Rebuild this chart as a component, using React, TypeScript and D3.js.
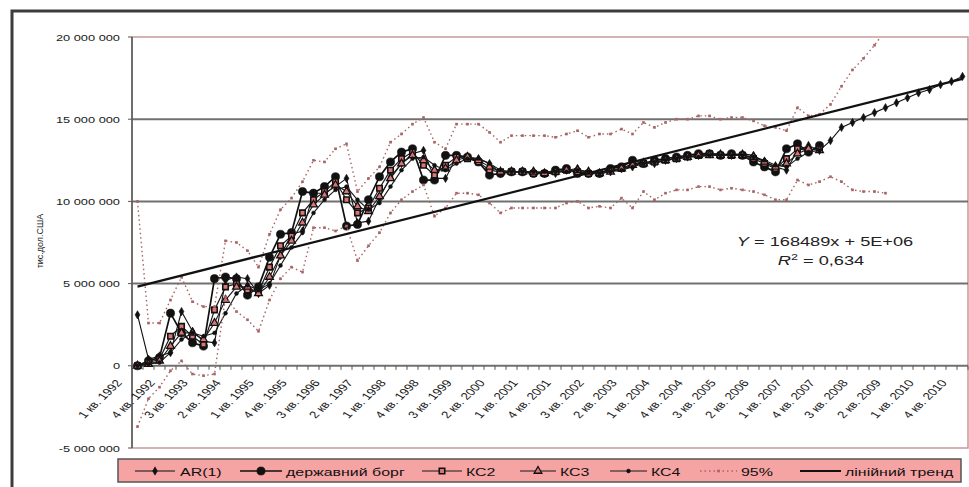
import React from 'react';
import * as d3 from 'd3';

const W = 969;
const H = 487;

const YEARS = [1992, 1993, 1994, 1995, 1996, 1997, 1998, 1999, 2000, 2001, 2002, 2003, 2004, 2005, 2006, 2007, 2008, 2009, 2010];
const QUARTERS = YEARS.flatMap((y) => [1, 2, 3, 4].map((q) => `${q} кв. ${y}`));
const LABEL_EVERY = 3;
const Y_TICKS = [-5, 0, 5, 10, 15, 20]; // millions

// values in millions of USD (тис. дол. США * 1000)
const debt = [
  0.0, 0.3, 0.5, 3.2, 2.0, 1.4, 1.2, 5.3, 5.4, 5.3,
  4.3, 4.8, 6.6, 8.0, 8.1, 10.6, 10.5, 10.9, 11.5, 8.5,
  8.6, 10.1, 11.5, 12.4, 13.0, 13.2, 11.3, 11.3, 12.8, 12.8,
  12.7, 12.4, 11.6, 11.7, 11.8, 11.8, 11.7, 11.7, 11.9, 12.0,
  11.7, 11.7, 11.7, 12.0, 12.1, 12.5, 12.3, 12.5, 12.6, 12.7,
  12.8, 12.9, 12.9, 12.8, 12.9, 12.8, 12.4, 12.1, 11.8, 13.2,
  13.5, 13.0, 13.4,
];

const ar1 = [
  3.1, 0.4, 0.6, 0.8, 3.3, 2.1, 1.5, 1.4, 5.2, 5.4,
  5.3, 4.4, 4.9, 6.7, 8.0, 8.2, 10.5, 10.5, 10.9, 11.4,
  8.7, 8.8, 10.2, 11.5, 12.3, 12.9, 13.1, 11.4, 11.4, 12.7,
  12.7, 12.6, 12.3, 11.7, 11.8, 11.8, 11.8, 11.7, 11.7, 11.9,
  12.0, 11.7, 11.7, 11.8, 12.0, 12.1, 12.4, 12.3, 12.5, 12.6,
  12.7, 12.8, 12.9, 12.9, 12.8, 12.9, 12.8, 12.4, 12.1, 11.9,
  13.1, 13.4, 13.1, 13.7, 14.5, 14.8, 15.1, 15.4, 15.7, 16.0,
  16.3, 16.6, 16.8, 17.1, 17.3, 17.6,
];

const kc2 = [
  0.0, 0.2, 0.4, 1.8, 2.4, 1.8, 1.3, 3.4, 4.8, 5.0,
  4.6, 4.5, 6.0, 7.3, 7.9, 9.3, 10.1, 10.6, 11.2, 10.1,
  9.3, 9.6, 10.8, 11.9, 12.6, 13.0, 12.2, 11.6, 12.2, 12.7,
  12.6, 12.4, 11.9, 11.8, 11.8, 11.8, 11.7, 11.7, 11.8, 11.9,
  11.8, 11.7, 11.7, 11.9, 12.0, 12.3, 12.3, 12.4, 12.5, 12.6,
  12.7, 12.8, 12.9, 12.8, 12.8, 12.8, 12.6, 12.3, 12.0, 12.6,
  13.2, 13.1, 13.2,
];

const kc3 = [
  0.0, 0.1, 0.3, 1.2, 2.0, 2.0, 1.6, 2.6, 4.0, 4.8,
  4.8, 4.4, 5.4, 6.7, 7.6, 8.7, 9.8, 10.4, 11.0, 10.6,
  9.7, 9.4, 10.3, 11.4, 12.3, 12.8, 12.5, 11.9, 12.0, 12.5,
  12.7, 12.5, 12.1, 11.8, 11.8, 11.8, 11.8, 11.7, 11.8, 11.9,
  11.9, 11.8, 11.7, 11.8, 12.0, 12.2, 12.3, 12.4, 12.5, 12.6,
  12.7, 12.8, 12.8, 12.8, 12.8, 12.8, 12.7, 12.4, 12.1, 12.3,
  12.9, 13.2, 13.1,
];

const kc4 = [
  0.0, 0.1, 0.2, 0.8, 1.6, 2.0, 1.8, 2.0, 3.2, 4.4,
  4.9, 4.6, 5.0, 6.1, 7.2, 8.1, 9.3, 10.1, 10.7, 10.9,
  10.1, 9.5, 9.9, 10.9, 11.9, 12.6, 12.7, 12.2, 11.9, 12.3,
  12.6, 12.6, 12.3, 11.9, 11.8, 11.8, 11.8, 11.8, 11.8, 11.8,
  11.9, 11.8, 11.7, 11.8, 11.9, 12.1, 12.3, 12.4, 12.5, 12.6,
  12.7, 12.7, 12.8, 12.8, 12.8, 12.8, 12.7, 12.5, 12.2, 12.1,
  12.6, 13.0, 13.1,
];

const upper95 = [
  10.0, 2.6, 2.6, 4.0, 5.4, 3.9, 3.6, 3.6, 7.6, 7.5,
  7.0, 6.0, 8.0, 9.5, 10.2, 11.2, 12.5, 12.4, 13.2, 13.5,
  10.6, 11.4, 12.1, 13.6, 14.1, 14.7, 15.1, 13.6, 13.2, 14.7,
  14.7, 14.7, 14.2, 13.6, 14.0, 14.0, 14.0, 14.0, 13.9, 14.1,
  14.3, 13.9, 14.1, 14.1, 14.4, 14.1, 14.8, 14.5, 14.8, 15.0,
  15.0, 15.2, 15.2, 15.0, 15.1, 15.1, 14.9, 14.6, 14.5, 14.3,
  15.7, 15.2, 15.3, 15.9, 17.0, 18.0, 18.7, 19.5, 20.4,
];

const lower95 = [
  -3.7, -2.0, -1.3, -0.3, 0.3, -0.5, -0.6, -0.5, 4.2, 3.3,
  2.8, 2.1, 4.0, 5.3, 6.0, 5.7, 8.4, 8.4, 8.2, 8.5,
  6.4, 7.3, 8.1, 9.3, 10.1, 10.6, 11.0, 9.1, 9.6, 10.5,
  10.5, 10.4, 9.9, 9.3, 9.6, 9.6, 9.6, 9.6, 9.6, 9.9,
  10.0, 9.6, 9.7, 9.6, 10.2, 9.6, 10.6, 10.1, 10.5, 10.7,
  10.7, 10.9, 10.9, 10.7, 10.8, 10.7, 10.6, 10.4, 10.1, 10.1,
  11.3, 11.0, 11.2, 11.5, 11.2, 10.7, 10.6, 10.6, 10.5,
];

const TREND_SLOPE = 168489; // per quarter
const TREND_INTERCEPT = 4650000;

const LEGEND = ['AR(1)', 'державний борг', 'КС2', 'КС3', 'КС4', '95%', 'лінійний тренд'];

const FONT = "'Liberation Sans', Arial, sans-serif";
const SX = 1.35;
const PINK = '#dc7676';
const BOUND = '#a86464';

const M = { left: 132, right: 968, top: 37, bottom: 448 };

const x = d3.scaleBand<number>().domain(QUARTERS.map((_, i) => i)).range([M.left, M.right]).paddingInner(0).paddingOuter(0);
const cx = (i: number) => (x(i) as number) + x.bandwidth() / 2;
const y = d3.scaleLinear().domain([-5, 20]).range([M.bottom, M.top]);

const fmtY = (v: number) => d3.format(',')(v * 1e6).replace(/,/g, ' ').replace('−', '-');

const lineGen = d3.line<number>().x((_, i) => cx(i)).y((d) => y(d));

const sym = (t: d3.SymbolType, s: number) => d3.symbol().type(t).size(s)() as string;

type SeriesStyle = {
  data: number[];
  stroke: string;
  width: number;
  dash?: string;
  marker: string;
  mFill: string;
  mStroke: string;
  mWidth: number;
};

const SERIES: SeriesStyle[] = [
  { data: ar1, stroke: '#111', width: 1.1, marker: sym(d3.symbolDiamond, 20), mFill: '#111', mStroke: '#111', mWidth: 0.6 },
  { data: debt, stroke: '#111', width: 1.7, marker: sym(d3.symbolCircle, 52), mFill: '#111', mStroke: '#111', mWidth: 0.6 },
  { data: kc2, stroke: '#1a1a1a', width: 1.2, marker: sym(d3.symbolSquare, 30), mFill: PINK, mStroke: '#111', mWidth: 1.6 },
  { data: kc3, stroke: '#1a1a1a', width: 1.1, marker: sym(d3.symbolTriangle, 26), mFill: PINK, mStroke: '#111', mWidth: 1.3 },
  { data: kc4, stroke: '#1a1a1a', width: 1.1, marker: sym(d3.symbolCircle, 12), mFill: '#111', mStroke: '#111', mWidth: 0.5 },
  { data: upper95, stroke: BOUND, width: 1.4, dash: '1.5,3', marker: sym(d3.symbolSquare, 7), mFill: BOUND, mStroke: 'none', mWidth: 0 },
  { data: lower95, stroke: BOUND, width: 1.4, dash: '1.5,3', marker: sym(d3.symbolSquare, 7), mFill: BOUND, mStroke: 'none', mWidth: 0 },
];

function SText(props: any) {
  const { x: tx, y: ty, sx = SX, rot = 0, children, ...rest } = props;
  return (
    <text transform={`translate(${tx},${ty}) scale(${sx},1)${rot ? ` rotate(${rot})` : ''}`} fontFamily={FONT} {...rest}>
      {children}
    </text>
  );
}

export default function App() {
  const n = QUARTERS.length;
  const trendPts: [number, number][] = [0, n - 1].map((i) => [cx(i), y((TREND_SLOPE * (i + 1) + TREND_INTERCEPT) / 1e6)]);

  const legendItems = [
    { s0: 135, s1: 175, tx: 180, idx: 0 },
    { s0: 240, s1: 282, tx: 286, idx: 1 },
    { s0: 422, s1: 462, tx: 466, idx: 2 },
    { s0: 520, s1: 556, tx: 560, idx: 3 },
    { s0: 610, s1: 647, tx: 651, idx: 4 },
    { s0: 700, s1: 737, tx: 741, idx: 5 },
    { s0: 800, s1: 841, tx: 845, idx: 7 },
  ];

  return (
    <svg width={W} height={H} style={{ position: 'absolute', left: 0, top: 0, background: '#fff' }}>
      <defs>
        <clipPath id="plotClip">
          <rect x={M.left} y={M.top} width={M.right - M.left} height={M.bottom - M.top} />
        </clipPath>
      </defs>
      <rect x={0} y={0} width={W} height={H} fill="#fff" />
      {/* outer frame */}
      <rect x={12} y={11} width={W + 20} height={H + 20} fill="none" stroke="#3c3c3c" strokeWidth={3} />

      {/* plot border (pink) */}
      <rect x={M.left} y={M.top} width={M.right - M.left} height={M.bottom - M.top} fill="none" stroke="#c79a9a" strokeWidth={1.5} />

      {/* gridlines */}
      {Y_TICKS.filter((v) => v > -5 && v < 20).map((v) => (
        <line key={v} x1={M.left} x2={M.right} y1={y(v)} y2={y(v)} stroke="#707070" strokeWidth={2} />
      ))}

      {/* y axis */}
      <line x1={M.left} x2={M.left} y1={M.top} y2={M.bottom} stroke="#666" strokeWidth={1.8} />
      {Y_TICKS.map((v) => (
        <g key={v}>
          <line x1={M.left - 4} x2={M.left} y1={y(v)} y2={y(v)} stroke="#555" strokeWidth={1} />
          <SText x={120} y={y(v) + 3.5} textAnchor="end" fontSize={9.5} fill="#1a1a1a">
            {fmtY(v)}
          </SText>
        </g>
      ))}

      {/* x ticks at category boundaries */}
      {d3.range(n + 1).map((k) => {
        const xx = M.left + k * x.bandwidth();
        return <line key={k} x1={xx} x2={xx} y1={y(0)} y2={y(0) + 4} stroke="#555" strokeWidth={1} />;
      })}
      {QUARTERS.map((q, i) =>
        i % LABEL_EVERY === 0 ? (
          <SText key={q} x={cx(i) - 15} y={383} rot={-52} textAnchor="end" fontSize={10} fill="#1a1a1a">
            {q}
          </SText>
        ) : null
      )}

      {/* y title */}
      <text transform="translate(43,241) rotate(-90)" textAnchor="middle" fontFamily={FONT} fontSize={9} fill="#222">
        тис.дол.США
      </text>

      {/* series */}
      <g clipPath="url(#plotClip)">
        {SERIES.map((s, si) => (
          <g key={si}>
            <path d={lineGen(s.data) as string} fill="none" stroke={s.stroke} strokeWidth={s.width} strokeDasharray={s.dash} />
            {s.data.map((v, i) => (
              <path key={i} d={s.marker} transform={`translate(${cx(i)},${y(v)})`} fill={s.mFill} stroke={s.mStroke} strokeWidth={s.mWidth} />
            ))}
          </g>
        ))}
        <line x1={trendPts[0][0]} y1={trendPts[0][1]} x2={trendPts[1][0]} y2={trendPts[1][1]} stroke="#111" strokeWidth={2.2} />
      </g>

      {/* equation */}
      <SText x={825} y={246} textAnchor="middle" fontSize={13} fill="#222" sx={1.4}>
        <tspan fontStyle="italic">Y</tspan> = 168489x  + 5E+06
      </SText>
      <SText x={821} y={265} textAnchor="middle" fontSize={13} fill="#222" sx={1.4}>
        <tspan fontStyle="italic">R</tspan>
        <tspan dy={-5} fontSize={9}>2</tspan>
        <tspan dy={5}> = 0,634</tspan>
      </SText>

      {/* legend */}
      <rect x={118} y={459} width={843} height={23} fill="#f5a3a3" stroke="#555" strokeWidth={1.5} />
      {legendItems.map((it, k) => {
        const ly = 471;
        if (it.idx === 7) {
          return (
            <g key={k}>
              <line x1={it.s0} x2={it.s1} y1={ly} y2={ly} stroke="#111" strokeWidth={2.2} />
              <SText x={it.tx} y={475.5} fontSize={11} fill="#111" sx={1.45}>{LEGEND[6]}</SText>
            </g>
          );
        }
        const s = SERIES[it.idx];
        return (
          <g key={k}>
            <line x1={it.s0} x2={it.s1} y1={ly} y2={ly} stroke={s.stroke} strokeWidth={s.width} strokeDasharray={s.dash} />
            <path d={s.marker} transform={`translate(${(it.s0 + it.s1) / 2},${ly})`} fill={s.mFill} stroke={s.mStroke} strokeWidth={s.mWidth} />
            <SText x={it.tx} y={475.5} fontSize={11} fill="#111" sx={1.45}>{LEGEND[it.idx]}</SText>
          </g>
        );
      })}
    </svg>
  );
}
